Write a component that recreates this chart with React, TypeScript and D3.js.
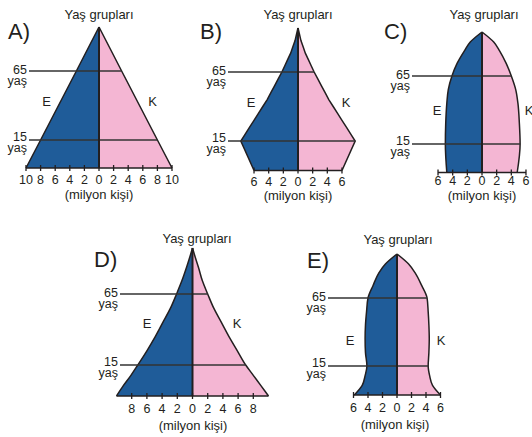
import React from "react";
import * as d3 from "d3";

// ---- data (values in million people) ----
const AGE_MARKS = [0, 15, 65, 100];
const AGE_LABELS = ["15", "65"];
const TITLE = "Yaş grupları";
const UNIT = "(milyon kişi)";
const YAS = "yaş";

const AGES_A = [0, 15, 65, 100];
const MALE_A = [10, 8.0, 3.1, 0];
const FEMALE_A = [10, 8.0, 3.1, 0];

const AGES_B = [0, 15, 20, 25, 30, 35, 40, 45, 50, 55, 60, 65, 70, 75, 80, 85, 90, 95, 100];
const MALE_B = [6.0, 7.8, 7.2, 6.6, 6.0, 5.4, 4.8, 4.2, 3.7, 3.2, 2.7, 2.2, 1.8, 1.4, 1.0, 0.7, 0.4, 0.2, 0];
const FEMALE_B = [6.0, 7.8, 7.2, 6.6, 6.0, 5.4, 4.8, 4.2, 3.7, 3.2, 2.7, 2.2, 1.8, 1.4, 1.0, 0.7, 0.4, 0.2, 0];

const AGES_C = [0, 15, 30, 45, 55, 65, 75, 85, 92, 100];
const MALE_C = [4.8, 5.0, 4.95, 4.8, 4.6, 4.1, 3.4, 2.4, 1.6, 0];
const FEMALE_C = [4.8, 5.2, 5.1, 4.9, 4.6, 4.0, 3.3, 2.4, 1.6, 0];

const AGES_D = [0, 5, 10, 15, 25, 35, 45, 55, 65, 75, 85, 95, 100];
const MALE_D = [10, 9.1, 8.1, 7.2, 6.0, 4.9, 3.9, 2.9, 2.1, 1.4, 0.8, 0.25, 0];
const FEMALE_D = [10, 9.0, 8.0, 7.0, 5.9, 4.8, 3.8, 2.8, 2.0, 1.3, 0.8, 0.25, 0];

const AGES_E = [0, 5, 10, 15, 25, 35, 45, 55, 65, 75, 85, 92, 100];
const MALE_E = [5.9, 4.8, 4.4, 4.15, 4.35, 4.4, 4.35, 4.2, 4.0, 3.3, 2.5, 1.6, 0];
const FEMALE_E = [6.0, 4.9, 4.5, 4.3, 4.4, 4.45, 4.4, 4.3, 4.15, 3.4, 2.5, 1.6, 0];

const TICKS_10 = [-10, -8, -6, -4, -2, 0, 2, 4, 6, 8, 10];
const TICKS_8 = [-8, -6, -4, -2, 0, 2, 4, 6, 8];
const TICKS_6 = [-6, -4, -2, 0, 2, 4, 6];

// ---- layout ----
const BLUE = "#1f5c99";
const PINK = "#f4b6d3";
const INK = "#231f20";
const FONT = "'Liberation Sans', Arial, Helvetica, sans-serif";

const PANELS = [
  { letter: "A)", ages: AGES_A, male: MALE_A, female: FEMALE_A, ticks: TICKS_10, axis: [-10, 10], curve: d3.curveLinear,
    cx: 99, baseY: 168, y15: 140, y65: 71, apexY: 27, k: 7.3, lineStart: 29, titleX: 99, titleY: 19,
    letterX: 8, letterY: 39, tickY: 184, unitX: 99, unitY: 199, eX: 46.5, kX: 152.5, ekY: 106 },
  { letter: "B)", ages: AGES_B, male: MALE_B, female: FEMALE_B, ticks: TICKS_6, axis: [-6, 6], curve: d3.curveLinear,
    cx: 298, baseY: 170.5, y15: 141, y65: 72, apexY: 28, k: 7.33, lineStart: 228, titleX: 298, titleY: 19,
    letterX: 200, letterY: 39, tickY: 186, unitX: 298, unitY: 200, eX: 251, kX: 346, ekY: 107 },
  { letter: "C)", ages: AGES_C, male: MALE_C, female: FEMALE_C, ticks: TICKS_6, axis: [-6, 6], curve: d3.curveMonotoneY,
    cx: 482, baseY: 172.5, y15: 144, y65: 76, apexY: 32, k: 7.33, lineStart: 412, titleX: 484, titleY: 19,
    letterX: 384, letterY: 39, tickY: 185, unitX: 482, unitY: 200, eX: 437, kX: 529, ekY: 115 },
  { letter: "D)", ages: AGES_D, male: MALE_D, female: FEMALE_D, ticks: TICKS_8, axis: [-10, 10], curve: d3.curveMonotoneY,
    cx: 192.5, baseY: 396, y15: 365, y65: 294, apexY: 248, k: 7.6, lineStart: 120, titleX: 197, titleY: 243,
    letterX: 94, letterY: 267, tickY: 413, unitX: 193, unitY: 430, eX: 147, kX: 237, ekY: 328 },
  { letter: "E)", ages: AGES_E, male: MALE_E, female: FEMALE_E, ticks: TICKS_6, axis: [-6, 6], curve: d3.curveMonotoneY,
    cx: 397, baseY: 395, y15: 366, y65: 298, apexY: 254, k: 7.25, lineStart: 328, titleX: 398, titleY: 244,
    letterX: 307, letterY: 268, tickY: 412, unitX: 395, unitY: 429, eX: 350, kX: 441, ekY: 345 },
];

function Pyramid({ p }: { p: any }) {
  const x = d3.scaleLinear().domain([-10, 10]).range([p.cx - 10 * p.k, p.cx + 10 * p.k]);
  const y = d3.scaleLinear().domain(AGE_MARKS).range([p.baseY, p.y15, p.y65, p.apexY]);
  const rows = p.ages.map((a: number, i: number) => ({ age: a, m: p.male[i], f: p.female[i] }));

  const maleArea = d3.area<any>().y((d) => y(d.age)).x0(x(0)).x1((d) => x(-d.m)).curve(p.curve);
  const femaleArea = d3.area<any>().y((d) => y(d.age)).x0(x(0)).x1((d) => x(d.f)).curve(p.curve);
  const maleLine = d3.line<any>().y((d) => y(d.age)).x((d) => x(-d.m)).curve(p.curve);
  const femaleLine = d3.line<any>().y((d) => y(d.age)).x((d) => x(d.f)).curve(p.curve);

  const femaleAt = d3.scaleLinear().domain(p.ages).range(p.female);
  const marks = [15, 65];

  return (
    <g>
      <text x={p.titleX} y={p.titleY} textAnchor="middle" fontSize={13}>{TITLE}</text>
      <text x={p.letterX} y={p.letterY} fontSize={22}>{p.letter}</text>
      <path d={maleArea(rows) || ""} fill={BLUE} />
      <path d={femaleArea(rows) || ""} fill={PINK} />
      <path d={maleLine(rows) || ""} fill="none" stroke={INK} strokeWidth={1.5} />
      <path d={femaleLine(rows) || ""} fill="none" stroke={INK} strokeWidth={1.5} />
      {marks.map((a, i) => (
        <g key={a}>
          <line x1={p.lineStart} x2={x(femaleAt(a))} y1={y(a)} y2={y(a)} stroke="#333" strokeWidth={1.5} />
          <text x={p.lineStart - 2} y={y(a) + (a === 65 ? 2.5 : 0.5)} textAnchor="end" fontSize={12.5}>{AGE_LABELS[i]}</text>
          <text x={p.lineStart - 2} y={y(a) + (a === 65 ? 14 : 12)} textAnchor="end" fontSize={12.5}>{YAS}</text>
        </g>
      ))}
      <line x1={x(0)} x2={x(0)} y1={y(100)} y2={y(0)} stroke={INK} strokeWidth={2} />
      <line x1={x(p.axis[0])} x2={x(p.axis[1])} y1={y(0)} y2={y(0)} stroke={INK} strokeWidth={1.6} />
      {p.ticks.map((t: number) => (
        <g key={t}>
          <line x1={x(t)} x2={x(t)} y1={y(0) - 3} y2={y(0) + 3} stroke={INK} strokeWidth={1.3} />
          <text x={x(t)} y={p.tickY} textAnchor="middle" fontSize={12.5}>{Math.abs(t)}</text>
        </g>
      ))}
      <text x={p.unitX} y={p.unitY} textAnchor="middle" fontSize={13}>{UNIT}</text>
      <text x={p.eX} y={p.ekY} textAnchor="middle" fontSize={13}>E</text>
      <text x={p.kX} y={p.ekY} textAnchor="middle" fontSize={13}>K</text>
    </g>
  );
}

export default function App() {
  return (
    <svg width={532} height={437} style={{ position: "absolute", left: 0, top: 0, background: "#fff" }}
      fontFamily={FONT} fill={INK}>
      <rect x={0} y={0} width={532} height={437} fill="#fff" />
      {PANELS.map((p) => (
        <Pyramid key={p.letter} p={p} />
      ))}
    </svg>
  );
}
